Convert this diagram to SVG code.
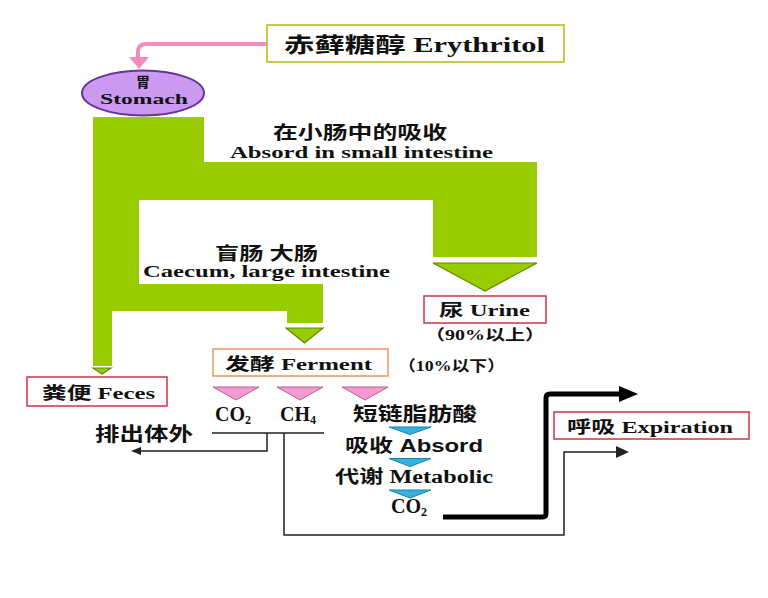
<svg xmlns="http://www.w3.org/2000/svg" width="768" height="598" viewBox="0 0 768 598">
<defs>
<style>
.t{font-family:"Liberation Serif","Noto Sans CJK SC",serif;font-weight:bold;fill:#111;}
.s{font-family:"Liberation Sans","Noto Sans CJK SC",sans-serif;font-weight:bold;fill:#111;}
.box{fill:#fff;stroke:#CC3344;stroke-width:1.5;}
.gtri{fill:#99CC00;stroke:#5E8A00;stroke-width:1.2;}
.ptri{fill:#F39BD2;stroke:#B85A90;stroke-width:1;}
.btri{fill:#33B2E2;stroke:#1E7FA8;stroke-width:1;}
.thin{fill:none;stroke:#222;stroke-width:1.5;}
</style>
</defs>
<rect width="768" height="598" fill="#fff"/>

<g id="intestine">
<path d="M93,117 H204 V162 H537 V257 H433 V200 H139 V284 H323 V323 H287 V311 H112 V366 H93 Z" fill="#99CC00"/>
<polygon class="gtri" points="433,263 537,263 485,291"/>
<polygon class="gtri" points="286,328 323,328 304.5,343"/>
<polygon class="gtri" points="93,368 111,368 102,374"/>
<text class="t" x="273" y="139" font-size="18" textLength="174" lengthAdjust="spacingAndGlyphs">在小肠中的吸收</text>
<text class="t" x="230" y="158" font-size="16" textLength="263" lengthAdjust="spacingAndGlyphs">Absord in small intestine</text>
<text class="t" x="215" y="260" font-size="18" textLength="103" lengthAdjust="spacingAndGlyphs">盲肠 大肠</text>
<text class="t" x="143" y="277" font-size="16" textLength="247" lengthAdjust="spacingAndGlyphs">Caecum, large intestine</text>
</g>

<g id="erythritol">
<rect x="267" y="25" width="297" height="37" fill="#fff" stroke="#C8C850" stroke-width="2"/>
<text class="t" x="284" y="52" font-size="21" textLength="261" lengthAdjust="spacingAndGlyphs">赤藓糖醇 Erythritol</text>
</g>

<g id="stomach">
<ellipse cx="143" cy="93" rx="61" ry="22.5" fill="#CC99F0" stroke="#663399" stroke-width="2"/>
<text class="t" x="143" y="87" font-size="14" text-anchor="middle">胃</text>
<text class="t" x="100" y="104" font-size="14" textLength="88" lengthAdjust="spacingAndGlyphs">Stomach</text>
</g>

<g id="urine">
<rect class="box" x="424" y="296" width="122" height="27"/>
<text class="t" x="439" y="316" font-size="17" textLength="91" lengthAdjust="spacingAndGlyphs">尿 Urine</text>
<text class="t" x="425" y="340" font-size="15" textLength="120" lengthAdjust="spacingAndGlyphs">（90%以上）</text>
</g>

<g id="feces">
<rect class="box" x="27" y="377" width="140" height="29"/>
<text class="t" x="42" y="399" font-size="17" textLength="113" lengthAdjust="spacingAndGlyphs">粪便 Feces</text>
</g>

<g id="ferment">
<rect x="213" y="349" width="175" height="27" fill="#fff" stroke="#E8956A" stroke-width="1.5"/>
<text class="t" x="225" y="370" font-size="17" textLength="147" lengthAdjust="spacingAndGlyphs">发酵 Ferment</text>
<text class="t" x="398" y="371" font-size="15" textLength="107" lengthAdjust="spacingAndGlyphs">（10%以下）</text>
</g>

<g id="products">
<polygon class="ptri" points="213,387 259,387 236,400"/>
<polygon class="ptri" points="277,387 323,387 300,400"/>
<polygon class="ptri" points="342,387 388,387 365,400"/>
<text class="t" x="215" y="421" font-size="20" font-weight="normal">CO<tspan font-size="12" dy="3">2</tspan></text>
<text class="t" x="280" y="421" font-size="20" font-weight="normal">CH<tspan font-size="12" dy="3">4</tspan></text>
<text class="t" x="353" y="421" font-size="19" textLength="124" lengthAdjust="spacingAndGlyphs">短链脂肪酸</text>
<text class="t" x="95" y="441" font-size="19" textLength="98" lengthAdjust="spacingAndGlyphs">排出体外</text>
</g>

<g id="metabolism">
<polygon class="btri" points="389,427 431,427 410,434.5"/>
<polygon class="btri" points="389,458.5 431,458.5 410,466.5"/>
<polygon class="btri" points="389,490 431,490 410,498"/>
<text class="s" x="345" y="452" font-size="18" textLength="138" lengthAdjust="spacingAndGlyphs">吸收 Absord</text>
<text class="t" x="335" y="483" font-size="18" textLength="158" lengthAdjust="spacingAndGlyphs">代谢 Metabolic</text>
<text class="t" x="391" y="513" font-size="20" font-weight="normal">CO<tspan font-size="12" dy="3">2</tspan></text>
</g>

<g id="expiration">
<rect class="box" x="554" y="412" width="195" height="27"/>
<text class="t" x="567" y="433" font-size="17" textLength="166" lengthAdjust="spacingAndGlyphs">呼吸 Expiration</text>
</g>

<g id="connectors">
<path d="M267,44 H146 Q138,44 138,52 V58" fill="none" stroke="#F08CC0" stroke-width="4"/>
<polygon points="129,57 149,57 139,69" fill="#F08CC0"/>
<path class="thin" d="M212,433 H324"/>
<path class="thin" d="M267,433 V451 H138"/>
<polygon points="131,451 141,447 141,455" fill="#222"/>
<path class="thin" d="M284,433 V535 H564 V452 H618"/>
<polygon points="629,452 616,446 616,458" fill="#222"/>
<path d="M443,517 H543 Q546,517 546,513 V398 Q546,394 550,394 H621" fill="none" stroke="#000" stroke-width="5"/>
<polygon points="638,394 619,386 619,402" fill="#000"/>
</g>
</svg>
